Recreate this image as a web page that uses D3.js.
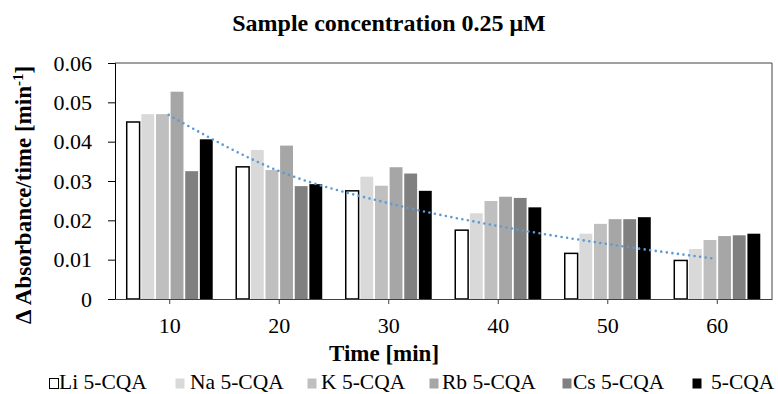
<!DOCTYPE html>
<html><head><meta charset="utf-8"><script src="https://cdn.jsdelivr.net/npm/d3@7"></script></head>
<body style="margin:0">
<script>
// categories (time in min) and series
const categories = ['10', '20', '30', '40', '50', '60'];
const seriesNames = ['Li 5-CQA', 'Na 5-CQA', 'K 5-CQA', 'Rb 5-CQA', 'Cs 5-CQA', '5-CQA'];
const liValues  = [0.0450, 0.0336, 0.0275, 0.0175, 0.0116, 0.0098];
const naValues  = [0.0470, 0.0379, 0.0311, 0.0218, 0.0166, 0.0127];
const kValues   = [0.0470, 0.0328, 0.0288, 0.0249, 0.0191, 0.0150];
const rbValues  = [0.0527, 0.0390, 0.0335, 0.0260, 0.0203, 0.0160];
const csValues  = [0.0325, 0.0287, 0.0319, 0.0257, 0.0203, 0.0162];
const cqaValues = [0.0406, 0.0292, 0.0275, 0.0233, 0.0208, 0.0166];
// dotted trend line, read at each category centre
const trendValues = [0.0468, 0.0326, 0.0244, 0.0186, 0.0140, 0.0102];
const yTickValues = [0, 0.01, 0.02, 0.03, 0.04, 0.05, 0.06];

const fills = ['#ffffff', '#d9d9d9', '#bfbfbf', '#a6a6a6', '#808080', '#000000'];
const FONT = "'Liberation Serif'";

const allSeries = [liValues, naValues, kValues, rbValues, csValues, cqaValues];
const rows = categories.map((c, i) => ({
  cat: c,
  vals: seriesNames.map((s, j) => ({ name: s, value: allSeries[j][i] }))
}));

const plot = { left: 115, right: 772, top: 63, bottom: 299 };

const svg = d3.select('body').append('svg')
  .attr('width', 778).attr('height', 394)
  .style('display', 'block');

const x0 = d3.scaleBand().domain(categories)
  .range([plot.left, plot.right])
  .paddingInner(0.2146).paddingOuter(0.107);
const x1 = d3.scaleBand().domain(seriesNames)
  .range([0, x0.bandwidth()])
  .paddingInner(0.12);
const y = d3.scaleLinear().domain([0, 0.06]).range([plot.bottom, plot.top]);
const color = d3.scaleOrdinal().domain(seriesNames).range(fills);

// frame (top and right)
svg.append('path')
  .attr('d', `M${plot.left},${plot.top}H${plot.right}V${plot.bottom}`)
  .attr('fill', 'none').attr('stroke', '#404040').attr('stroke-width', 1);

// bars
const groups = svg.append('g').selectAll('g').data(rows).join('g')
  .attr('transform', d => `translate(${x0(d.cat)},0)`);
groups.selectAll('rect').data(d => d.vals).join('rect')
  .attr('x', d => x1(d.name))
  .attr('width', x1.bandwidth())
  .attr('y', d => y(d.value))
  .attr('height', d => y(0) - y(d.value))
  .attr('fill', d => color(d.name))
  .attr('stroke', d => d.name === 'Li 5-CQA' ? '#000' : 'none')
  .attr('stroke-width', 1.5);

// trend line
const line = d3.line()
  .x((d, i) => x0(categories[i]) + x0.bandwidth() / 2 - 1)
  .y(d => y(d))
  .curve(d3.curveMonotoneX);
svg.append('path')
  .datum(trendValues)
  .attr('d', line)
  .attr('fill', 'none')
  .attr('stroke', '#5b9bd5')
  .attr('stroke-width', 2.6)
  .attr('stroke-linecap', 'round')
  .attr('stroke-dasharray', '0 5.6');

// y axis
const yAxis = svg.append('g')
  .attr('transform', `translate(${plot.left},0)`)
  .call(d3.axisLeft(y).tickValues(yTickValues)
    .tickFormat(d => d === 0 ? '0' : d3.format('.2f')(d))
    .tickSize(7).tickPadding(16));
yAxis.attr('font-family', null).attr('font-size', null);
yAxis.select('.domain').attr('stroke', '#000');
yAxis.selectAll('.tick line').attr('stroke', '#000');
yAxis.selectAll('.tick text')
  .style('font-family', FONT)
  .style('font-size', '22px').attr('fill', '#000');

// x axis
const xAxis = svg.append('g')
  .attr('transform', `translate(0,${plot.bottom})`)
  .call(d3.axisBottom(x0).tickSize(5).tickPadding(13).tickSizeOuter(0));
xAxis.attr('font-family', null).attr('font-size', null);
xAxis.select('.domain').attr('stroke', '#404040');
xAxis.selectAll('.tick line').attr('stroke', '#404040');
xAxis.selectAll('.tick text')
  .style('font-family', FONT)
  .style('font-size', '22px').attr('fill', '#000');

// title
svg.append('text')
  .attr('x', 389).attr('y', 31)
  .attr('text-anchor', 'middle')
  .style('font-family', FONT)
  .style('font-size', '24px').style('font-weight', 'bold')
  .text('Sample concentration 0.25 μM');

// x axis title
svg.append('text')
  .attr('x', 384).attr('y', 361)
  .attr('text-anchor', 'middle')
  .style('font-family', FONT)
  .style('font-size', '23px').style('font-weight', 'bold')
  .text('Time [min]');

// y axis title
const yt = svg.append('text')
  .attr('transform', 'translate(31,195) rotate(-90)')
  .attr('text-anchor', 'middle')
  .style('font-family', FONT)
  .style('font-size', '23px').style('font-weight', 'bold');
yt.append('tspan').text('Δ Absorbance/time [min');
yt.append('tspan').style('font-size', '15px').attr('dy', -8).text('-1');
yt.append('tspan').attr('dy', 8).text(']');

// legend
const legendX = [49, 175, 307, 429, 562, 692];
const legendTextX = [59, 190, 321, 442, 573, 711];
const leg = svg.append('g').selectAll('g').data(seriesNames).join('g');
leg.append('rect')
  .attr('x', (d, i) => legendX[i] + 0.5)
  .attr('y', 378.5)
  .attr('width', 9).attr('height', 10)
  .attr('fill', d => color(d))
  .attr('stroke', d => d === 'Li 5-CQA' ? '#000' : 'none')
  .attr('stroke-width', 1);
leg.append('text')
  .attr('x', (d, i) => legendTextX[i])
  .attr('y', 389)
  .style('font-family', FONT)
  .style('font-size', '21.5px')
  .text(d => d);
</script>
</body>
</html>
